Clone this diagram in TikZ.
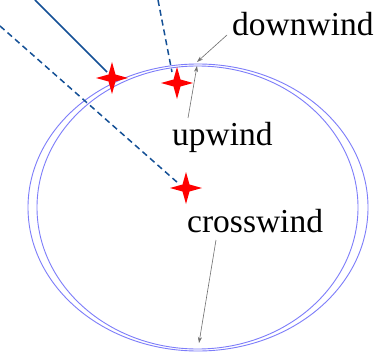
\documentclass[tikz,border=0pt]{standalone}
\usepackage{fontspec}
\setmainfont{Liberation Serif}
\usetikzlibrary{arrows.meta}
\definecolor{ringblue}{RGB}{125,125,250}
\definecolor{rayblue}{RGB}{20,80,150}
\definecolor{ptr}{RGB}{110,110,110}
\tikzset{
  ring/.style={draw=ringblue, line width=0.9pt},
  ray/.style={draw=rayblue, line width=1.5pt},
  dashray/.style={ray, dash pattern=on 6pt off 4pt},
  pointer/.style={draw=ptr, line width=0.6pt, -{Stealth[length=6pt,width=4pt]}},
  lbl/.style={anchor=base west, inner sep=0pt, font=\fontsize{33.5}{34}\selectfont},
}
\newcommand{\redstar}[1]{\fill[red] (#1) ++(0,-16) -- ++(3.5,12.5) -- ++(12.5,3.5) -- ++(-12.5,3.5) -- ++(-3.5,12.5) -- ++(-3.5,-12.5) -- ++(-12.5,-3.5) -- ++(12.5,-3.5) -- cycle;}
\begin{document}
\begin{tikzpicture}[x=1pt,y=-1pt]
\useasboundingbox (0,0) rectangle (383,353);
\fill[white] (0,0) rectangle (383,353);
% ellipses
\draw[ring] (198,207.5) ellipse [x radius=170, y radius=143.5];
\draw[ring] (197.5,207.5) ellipse [x radius=160.5, y radius=141.5];
% ray end points and star centres
\coordinate (s1) at (112,78);
\coordinate (s2) at (177,83);
\coordinate (s3) at (186,188);
\coordinate (r1a) at (35,0);
\coordinate (r1b) at (107,72);
\coordinate (r2a) at (158,0);
\coordinate (r2b) at (172,72);
\coordinate (r3a) at (0,26);
\coordinate (r3b) at (178,183);
\draw[ray] (r1a) -- (r1b);
\draw[dashray] (r2a) -- (r2b);
\draw[dashray] (r3a) -- (r3b);
\redstar{s1}
\redstar{s2}
\redstar{s3}
% labels
\node[lbl] (dw) at (232,36) {downwind};
\node[lbl] (uw) at (172,145) {upwind};
\node[lbl] (cw) at (187,232) {crosswind};
\coordinate (dwtip) at (197,62);
\coordinate (uwtip) at (197,66);
\coordinate (cwtip) at (199,343);
\coordinate (dwtail) at (227,35);
\coordinate (uwtail) at (188,118);
\coordinate (cwtail) at (216,240);
\draw[pointer] (dwtail) -- (dwtip);
\draw[pointer] (uwtail) -- (uwtip);
\draw[pointer] (cwtail) -- (cwtip);
\end{tikzpicture}
\end{document}
